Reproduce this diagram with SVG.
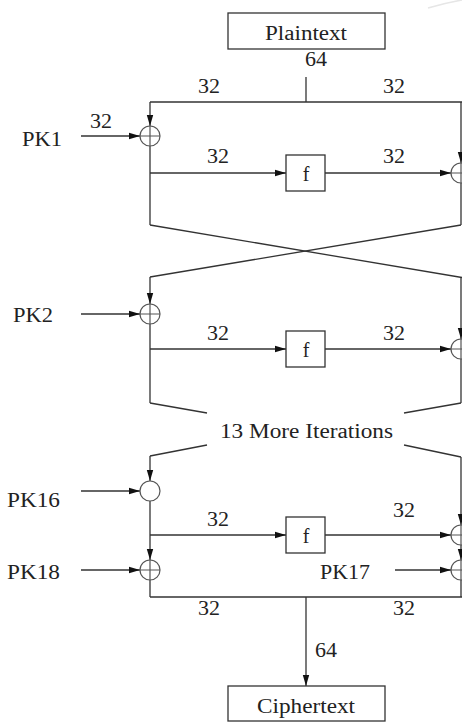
<svg xmlns="http://www.w3.org/2000/svg" width="462" height="722" viewBox="0 0 462 722">
<defs>
<marker id="arr" markerUnits="userSpaceOnUse" markerWidth="11" markerHeight="8" refX="11" refY="4" orient="auto">
<path d="M0,0.8 L11,4 L0,7.2 z" fill="#111"/>
</marker>
<style>
.ln{fill:none;stroke:#333;stroke-width:1.3}
.box{fill:#fff;stroke:#333;stroke-width:1.3}
.xor{fill:#fff;stroke:#555;stroke-width:1.2}
.t{font-size:20px;fill:#222}
.a{fill:none;stroke:#333;stroke-width:1.3;marker-end:url(#arr)}
</style>
</defs>
<rect width="462" height="722" fill="#fff"/>
<path d="M428,8 Q445,3 462,0" fill="none" stroke="#e6e6e6" stroke-width="1.5"/>

<g id="connectors">
<line class="ln" x1="306" y1="77" x2="306" y2="102"/>
<line class="ln" x1="150" y1="102" x2="462" y2="102"/>
<line class="a" x1="150" y1="102" x2="150" y2="126"/>
<line class="a" x1="81" y1="136" x2="140" y2="136"/>
<line class="ln" x1="150" y1="146" x2="150" y2="225"/>
<line class="a" x1="150" y1="173" x2="286" y2="173"/>
<line class="a" x1="325" y1="173" x2="451" y2="173"/>
<line class="a" x1="461" y1="102" x2="461" y2="163"/>
<line class="ln" x1="461" y1="183" x2="461" y2="225"/>
<line class="ln" x1="150" y1="225" x2="462" y2="277.5"/>
<line class="ln" x1="461" y1="225" x2="150" y2="277"/>

<line class="a" x1="150" y1="277" x2="150" y2="304"/>
<line class="a" x1="81" y1="314" x2="140" y2="314"/>
<line class="ln" x1="150" y1="324" x2="150" y2="403"/>
<line class="a" x1="150" y1="349" x2="286" y2="349"/>
<line class="a" x1="325" y1="349" x2="451" y2="349"/>
<line class="a" x1="461" y1="277" x2="461" y2="339"/>
<line class="ln" x1="461" y1="359" x2="461" y2="403"/>
<polyline class="ln" points="207,413 150,403"/>
<polyline class="ln" points="404,413 461,403"/>
<polyline class="ln" points="207,445 150,456"/>
<polyline class="ln" points="404,445 461,457"/>

<line class="a" x1="150" y1="456" x2="150" y2="481"/>
<line class="a" x1="81" y1="491" x2="140" y2="491"/>
<line class="a" x1="150" y1="501" x2="150" y2="560"/>
<line class="a" x1="150" y1="535" x2="286" y2="535"/>
<line class="a" x1="325" y1="535" x2="451" y2="535"/>
<line class="a" x1="81" y1="570" x2="140" y2="570"/>
<line class="ln" x1="150" y1="580" x2="150" y2="597"/>
<line class="a" x1="461" y1="457" x2="461" y2="525"/>
<line class="a" x1="461" y1="545" x2="461" y2="560"/>
<line class="a" x1="395" y1="570" x2="451" y2="570"/>
<line class="ln" x1="461" y1="580" x2="461" y2="597"/>
<line class="ln" x1="150" y1="597" x2="462" y2="597"/>
<line class="a" x1="306" y1="597" x2="306" y2="686"/>
</g>

<g font-family="Liberation Serif, DejaVu Serif, serif">
<g id="plaintext"><rect class="box" x="228" y="13" width="157" height="36"/><text class="t" x="265" y="40" textLength="82" lengthAdjust="spacingAndGlyphs">Plaintext</text></g>
<g id="ciphertext"><rect class="box" x="228" y="686" width="157" height="35"/><text class="t" x="257" y="713" textLength="98" lengthAdjust="spacingAndGlyphs">Ciphertext</text></g>

<g id="f1"><rect class="box" x="286" y="155" width="39" height="36"/><text class="t" x="306" y="181" text-anchor="middle">f</text></g>
<g id="f2"><rect class="box" x="286" y="331" width="39" height="36"/><text class="t" x="306" y="357" text-anchor="middle">f</text></g>
<g id="f3"><rect class="box" x="286" y="517" width="39" height="36"/><text class="t" x="306" y="543" text-anchor="middle">f</text></g>

<g id="xor1"><circle class="xor" cx="150" cy="136" r="10"/><path class="xor" d="M140,136 H160 M150,126 V146"/></g>
<g id="xor2"><circle class="xor" cx="150" cy="314" r="10"/><path class="xor" d="M140,314 H160 M150,304 V324"/></g>
<g id="add16"><circle class="xor" cx="150" cy="491" r="10"/></g>
<g id="xor18"><circle class="xor" cx="150" cy="570" r="10"/><path class="xor" d="M140,570 H160 M150,560 V580"/></g>
<g id="xorR1"><circle class="xor" cx="461" cy="173" r="10"/><path class="xor" d="M451,173 H471 M461,163 V183"/></g>
<g id="xorR2"><circle class="xor" cx="461" cy="349" r="10"/><path class="xor" d="M451,349 H471 M461,339 V359"/></g>
<g id="xorR3"><circle class="xor" cx="461" cy="535" r="10"/><path class="xor" d="M451,535 H471 M461,525 V545"/></g>
<g id="xorR4"><circle class="xor" cx="461" cy="570" r="10"/><path class="xor" d="M451,570 H471 M461,560 V580"/></g>

<g id="labels">
<text class="t" x="305" y="66" textLength="22" lengthAdjust="spacingAndGlyphs">64</text>
<text class="t" x="198" y="93" textLength="22" lengthAdjust="spacingAndGlyphs">32</text>
<text class="t" x="383" y="93" textLength="22" lengthAdjust="spacingAndGlyphs">32</text>
<text class="t" x="90" y="128" textLength="22" lengthAdjust="spacingAndGlyphs">32</text>
<text class="t" x="22" y="146" textLength="40" lengthAdjust="spacingAndGlyphs">PK1</text>
<text class="t" x="207" y="163" textLength="22" lengthAdjust="spacingAndGlyphs">32</text>
<text class="t" x="383" y="163" textLength="22" lengthAdjust="spacingAndGlyphs">32</text>
<text class="t" x="13" y="322" textLength="40" lengthAdjust="spacingAndGlyphs">PK2</text>
<text class="t" x="207" y="340" textLength="22" lengthAdjust="spacingAndGlyphs">32</text>
<text class="t" x="383" y="340" textLength="22" lengthAdjust="spacingAndGlyphs">32</text>
<text class="t" x="220" y="438" textLength="173" lengthAdjust="spacingAndGlyphs">13 More Iterations</text>
<text class="t" x="7" y="507" textLength="53" lengthAdjust="spacingAndGlyphs">PK16</text>
<text class="t" x="207" y="526" textLength="22" lengthAdjust="spacingAndGlyphs">32</text>
<text class="t" x="393" y="517" textLength="22" lengthAdjust="spacingAndGlyphs">32</text>
<text class="t" x="7" y="579" textLength="53" lengthAdjust="spacingAndGlyphs">PK18</text>
<text class="t" x="320" y="579" textLength="50" lengthAdjust="spacingAndGlyphs">PK17</text>
<text class="t" x="198" y="615" textLength="22" lengthAdjust="spacingAndGlyphs">32</text>
<text class="t" x="393" y="615" textLength="22" lengthAdjust="spacingAndGlyphs">32</text>
<text class="t" x="315" y="657" textLength="22" lengthAdjust="spacingAndGlyphs">64</text>
</g>
</g>
</svg>
